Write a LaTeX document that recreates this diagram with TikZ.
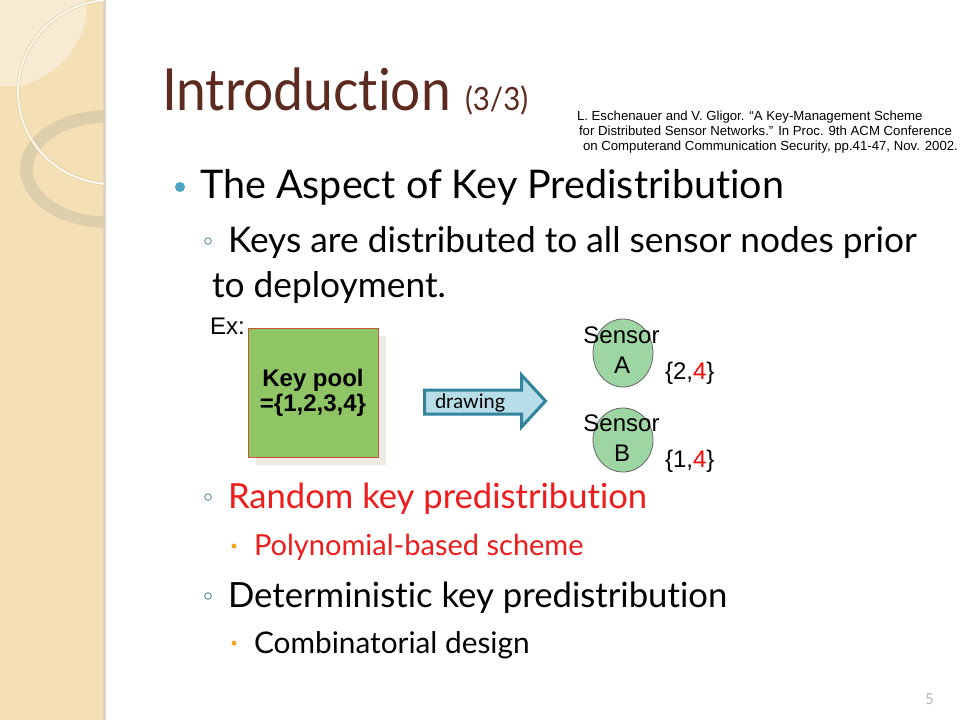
\documentclass[tikz,border=0pt]{standalone}
\usepackage{fontspec}
\setmainfont{Lato}[Ligatures=NoCommon]
\newfontfamily\titlefont{Lato}[Ligatures=NoCommon, FakeStretch=0.92]
\newfontfamily\arialf{Liberation Sans}
\usetikzlibrary{shapes.geometric}
\definecolor{stripe}{HTML}{F4E0B4}
\definecolor{stripelight}{HTML}{F7EBD3}
\definecolor{stripeedge}{HTML}{DCD3C2}
\definecolor{ringcol}{HTML}{DDCFAC}
\definecolor{ellcol}{HTML}{FCF7E8}
\definecolor{ellshadow}{HTML}{DCCDA8}
\definecolor{titlecol}{HTML}{5C2A1E}
\definecolor{teal}{HTML}{4BA3C3}
\definecolor{subbul}{HTML}{6E9BAA}
\definecolor{orangedot}{HTML}{F2A72A}
\definecolor{redtext}{HTML}{EE1C1C}
\definecolor{poolgreen}{HTML}{8FC565}
\definecolor{poolborder}{HTML}{C8553A}
\definecolor{poolshadow}{HTML}{EEEBE2}
\definecolor{arrowfill}{HTML}{B7DEE8}
\definecolor{arrowborder}{HTML}{31849B}
\definecolor{sensorfill}{HTML}{9DD5A3}
\definecolor{pagenum}{HTML}{B8B8B8}
\tikzset{
  txt/.style={anchor=base west, inner sep=0pt, outer sep=0pt},
  fs/.style={font=\fontsize{#1}{#1}\selectfont},
  arl/.style={txt, font=\arialf\fontsize{24}{24}\selectfont},
  cite/.style={txt, font=\arialf\fontsize{13.2}{13.2}\selectfont},
  sensor/.style={ellipse, draw=black!60, line width=0.8pt, fill=sensorfill, inner sep=0pt, minimum width=60pt},
  ringbul/.style={draw=subbul, line width=1pt},
}
\begin{document}
\begin{tikzpicture}[x=1pt,y=-1pt]
\useasboundingbox (0,0) rectangle (960,720);
\fill[white] (0,0) rectangle (960,720);
% left stripe
\fill[stripe] (0,0) rectangle (104,720);
\fill[stripeedge] (103,0) rectangle (106,720);
\begin{scope}
  \clip (0,0) rectangle (86,85);
  \fill[stripelight] (0,0) circle[radius=88];
\end{scope}
\begin{scope}
  \clip (0,0) rectangle (104,720);
  \fill[ringcol, even odd rule] (108,169) ellipse[x radius=88, y radius=59] (108,169.5) ellipse[x radius=75, y radius=47];
  \draw[ellshadow, line width=3.5pt] (112,92) ellipse[x radius=94, y radius=92];
  \draw[ellcol, line width=2.2pt] (112,92) ellipse[x radius=94, y radius=92];
\end{scope}
% title
\node[txt, font=\titlefont\fontsize{58}{58}\selectfont, text=titlecol] (title) at (162,110) {Introduction};
\node[txt, font=\titlefont\fontsize{32}{32}\selectfont, text=titlecol] (titlenum) at (465,110) {(3/3)};
% citation
\node[cite] (c1) at (577,120) {L. Eschenauer and V. Gligor. “A Key-Management Scheme};
\node[cite] (c2) at (579,135) {for Distributed Sensor Networks.” In Proc. 9th ACM Conference};
\node[cite] (c3) at (583,150) {on Computerand Communication Security, pp.41-47, Nov. 2002.};
% bullets
\fill[teal] (180,187) circle[radius=5];
\node[txt, fs=39.5] (l1) at (200,198) {The Aspect of Key Predistribution};
\draw[ringbul] (208,241) circle[radius=3.3];
\node[txt, fs=35.3] (l2) at (228,252) {Keys are distributed to all sensor nodes prior};
\node[txt, fs=35.3] (l2b) at (212,297) {to deployment.};
\draw[ringbul] (208,497) circle[radius=3.3];
\node[txt, fs=34.6, text=redtext] (l3) at (228,508) {Random key predistribution};
\fill[orangedot] (234,546) circle[radius=2.5];
\node[txt, fs=29, text=redtext] (l4) at (254,555) {Polynomial-based scheme};
\draw[ringbul] (208,596) circle[radius=3.3];
\node[txt, fs=34.7] (l5) at (228,607) {Deterministic key predistribution};
\fill[orangedot] (234,643) circle[radius=2.5];
\node[txt, fs=29.8] (l6) at (254,653) {Combinatorial design};
% example
\node[arl] (ex) at (210,334) {Ex:};
\fill[poolshadow] (256,336) rectangle (386,465);
\node[draw=poolborder, fill=poolgreen, line width=0.8pt, minimum width=130pt, minimum height=129pt, inner sep=0pt] (pool) at (313,392.5) {};
\node[arl, anchor=base, font=\arialf\bfseries\fontsize{24}{24}\selectfont] (pt1) at (313,386) {Key pool};
\node[arl, anchor=base, font=\arialf\bfseries\fontsize{24}{24}\selectfont] (pt2) at (313,411) {=\{1,2,3,4\}};
% block arrow
\draw[arrowborder, fill=arrowfill, line width=3pt, line join=miter] (424.5,390) -- (521.5,390) -- (521.5,375) -- (545.5,401) -- (521.5,427) -- (521.5,414) -- (424.5,414) -- cycle;
\node[txt, fs=20] (draw) at (435,408) {drawing};
% sensors
\node[sensor, minimum height=68pt] (sa) at (623,353) {};
\node[arl, anchor=base] (sat1) at (621.5,343) {Sensor};
\node[arl, anchor=base] (sat2) at (622,373) {A};
\node[arl] (ka) at (665,379) {\{2,{\color{red}4}\}};
\node[sensor, minimum height=64pt] (sb) at (623,440) {};
\node[arl, anchor=base] (sbt1) at (621.5,431) {Sensor};
\node[arl, anchor=base] (sbt2) at (622,461) {B};
\node[arl] (kb) at (665,467) {\{1,{\color{red}4}\}};
% page number
\node[txt, fs=15, text=pagenum] (pg) at (925,704) {5};
\end{tikzpicture}
\end{document}
